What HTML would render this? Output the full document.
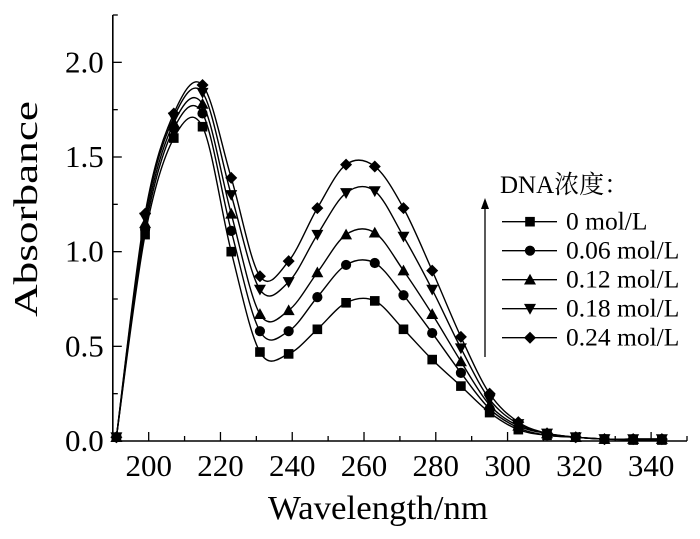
<!DOCTYPE html>
<html><head><meta charset="utf-8"><style>
body{margin:0;background:#fff;}
svg text{font-family:"Liberation Serif","Noto Serif CJK SC",serif;fill:#000;}
</style></head><body>
<svg id="chart" width="700" height="534" xmlns="http://www.w3.org/2000/svg">
<g id="axes"></g>
<g id="series"></g>
<g id="legend"></g>
<text x="378" y="519" font-size="34" text-anchor="middle" textLength="220" lengthAdjust="spacingAndGlyphs">Wavelength/nm</text>
<text transform="translate(37,209) rotate(-90)" font-size="34" text-anchor="middle" textLength="216" lengthAdjust="spacingAndGlyphs">Absorbance</text>
</svg>
<script>
const wavelengths=[191,199,207,215,223,231,239,247,255,263,271,279,287,295,303,311,319,327,335,343];
const s0=[0.02,1.09,1.60,1.66,1.00,0.47,0.46,0.59,0.73,0.74,0.59,0.43,0.29,0.15,0.06,0.03,0.02,0.01,0.005,0.005];
const s006=[0.02,1.12,1.65,1.73,1.11,0.58,0.58,0.76,0.93,0.94,0.77,0.57,0.36,0.17,0.07,0.03,0.02,0.01,0.01,0.01];
const s012=[0.02,1.15,1.68,1.78,1.20,0.67,0.69,0.89,1.09,1.10,0.90,0.67,0.42,0.19,0.08,0.04,0.02,0.01,0.01,0.01];
const s018=[0.02,1.18,1.71,1.84,1.30,0.80,0.84,1.09,1.31,1.32,1.08,0.80,0.49,0.22,0.09,0.04,0.02,0.01,0.01,0.01];
const s024=[0.02,1.20,1.73,1.88,1.39,0.87,0.95,1.23,1.46,1.45,1.23,0.90,0.55,0.25,0.10,0.04,0.02,0.01,0.01,0.01];
const seriesLabels=["0 mol/L","0.06 mol/L","0.12 mol/L","0.18 mol/L","0.24 mol/L"];
const xTicks=[200,220,240,260,280,300,320,340];
const yTicks=["0.0","0.5","1.0","1.5","2.0"];
const allSeries=[s0,s006,s012,s018,s024];
const markers=["square","circle","up","down","diamond"];
const NS="http://www.w3.org/2000/svg";
const X0=112.8,X1=687,Y0=441,Y1=15,xmin=190,xmax=350,ymin=0,ymax=2.25;
const xs=v=>X0+(v-xmin)/(xmax-xmin)*(X1-X0);
const ys=v=>Y0-(v-ymin)/(ymax-ymin)*(Y0-Y1);
function mk(tag,attrs,parent){const e=document.createElementNS(NS,tag);for(const k in attrs)e.setAttribute(k,attrs[k]);parent.appendChild(e);return e;}
const axes=document.getElementById('axes');
let l=mk('line',{x1:X0,y1:Y0,x2:X1,y2:Y0,stroke:'#000','stroke-width':1.6},axes);


l=mk('line',{x1:X0,y1:Y0,x2:X0,y2:Y1,stroke:'#000','stroke-width':1.6},axes);


for(let v=190;v<=350;v+=10){const major=(v%20===0);mk('line',{x1:xs(v),y1:Y0,x2:xs(v),y2:Y0-(major?9:5),stroke:'#000','stroke-width':1.3},axes);}
xTicks.forEach(t=>{const tx=mk('text',{x:xs(t),y:Y0+35,'font-size':31,'text-anchor':'middle'},axes);tx.textContent=t;

});
for(let v=0;v<=2.25;v+=0.25){const major=(Math.round(v*4)%2===0);mk('line',{x1:X0,y1:ys(v),x2:X0+(major?9:5),y2:ys(v),stroke:'#000','stroke-width':1.3},axes);}
yTicks.forEach(t=>{const tx=mk('text',{x:X0-9,y:ys(parseFloat(t))+10,'font-size':31,'text-anchor':'end'},axes);tx.textContent=t;

});
function drawMarker(type,cx,cy,g,s){
  s=s||6;let e;
  if(type==='square')e=mk('rect',{x:cx-s*0.8,y:cy-s*0.8,width:s*1.6,height:s*1.6},g);
  else if(type==='circle')e=mk('circle',{cx:cx,cy:cy,r:s*0.85},g);
  else if(type==='up')e=mk('polygon',{points:`${cx},${cy-s} ${cx-s},${cy+s*0.8} ${cx+s},${cy+s*0.8}`},g);
  else if(type==='down')e=mk('polygon',{points:`${cx},${cy+s} ${cx-s},${cy-s*0.8} ${cx+s},${cy-s*0.8}`},g);
  else e=mk('polygon',{points:`${cx},${cy-s} ${cx+s},${cy} ${cx},${cy+s} ${cx-s},${cy}`},g);
  e.setAttribute('fill','#000');return e;}
const sg=document.getElementById('series');
allSeries.forEach((arr,si)=>{
  const pts=wavelengths.map((w,i)=>[xs(w),ys(arr[i])]);
  let d=`M${pts[0][0]},${pts[0][1]}`;
  for(let i=0;i<pts.length-1;i++){const p0=pts[Math.max(0,i-1)],p1=pts[i],p2=pts[i+1],p3=pts[Math.min(pts.length-1,i+2)];
    const c1=[p1[0]+(p2[0]-p0[0])/6,p1[1]+(p2[1]-p0[1])/6],c2=[p2[0]-(p3[0]-p1[0])/6,p2[1]-(p3[1]-p1[1])/6];
    d+=` C${c1[0]},${c1[1]} ${c2[0]},${c2[1]} ${p2[0]},${p2[1]}`;}
  const p=mk('path',{d:d,fill:'none',stroke:'#000','stroke-width':1.4},sg);
  
  
  pts.forEach(q=>{const m=drawMarker(markers[si],q[0],q[1],sg,6);
    
    });
});
const lg=document.getElementById('legend');
let t=mk('text',{x:500,y:193,'font-size':25},lg);t.textContent='DNA浓度：';


let ar=mk('line',{x1:485,y1:357,x2:485,y2:206,stroke:'#000','stroke-width':1.3},lg);


mk('polygon',{points:'485,198 481,209 489,209',fill:'#000'},lg);
seriesLabels.forEach((lab,i)=>{const y=221.7+i*29;
  const g=mk('g',{},lg);
  
  
  mk('line',{x1:502,y1:y,x2:557,y2:y,stroke:'#000','stroke-width':1.4},g);
  drawMarker(markers[i],530,y,g,6);
  const tx=mk('text',{x:566,y:y+8,'font-size':25.5},g);tx.textContent=lab;});
</script>
</body></html>
